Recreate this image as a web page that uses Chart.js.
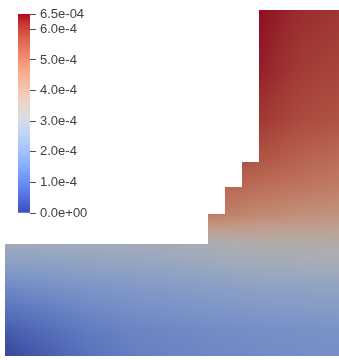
<!DOCTYPE html>
<html>
<head>
<meta charset="utf-8">
<script src="https://cdn.jsdelivr.net/npm/chart.js@4/dist/chart.umd.min.js"></script>
<style>
  html, body { margin: 0; padding: 0; background: #ffffff; }
  #wrap { position: relative; width: 339px; height: 360px; overflow: hidden; }
  canvas { position: absolute; left: 0; top: 0; }
</style>
</head>
<body>
<div id="wrap">
  <canvas id="field" width="339" height="360"></canvas>
  <canvas id="legend" width="120" height="230"></canvas>
</div>
<script>
// Mesh node coordinates of the body (model units)
const xNodes = [0, 2, 5, 8, 12, 13, 14, 15, 17.5, 20];
const yNodes = [0, 1.5, 4, 6.65, 8.4, 10, 11.5, 14, 17, 20.52];

// Stepped left boundary: wall x position for each level and the level's top
const wallX   = [0, 12, 13, 14, 15];
const wallTop = [6.65, 8.4, 10, 11.5, 20.52];

// Nodal values in units of 1e-4, one array per row of nodes (null = outside the body)
const n = null;
const rowY0    = [0.05, 0.45, 1.0, 1.3, 1.5, 1.55, 1.55, 1.6, 1.65, 1.7];
const rowY1_5  = [0.5, 0.8, 1.2, 1.45, 1.6, 1.65, 1.65, 1.7, 1.75, 1.8];
const rowY4    = [1.5, 1.65, 1.85, 2.0, 2.15, 2.2, 2.25, 2.3, 2.35, 2.4];
const rowY6_65 = [2.8, 2.8, 2.85, 2.9, 3.1, 3.2, 3.25, 3.3, 3.35, 3.4];
const rowY8_4  = [n, n, n, n, 4.9, 4.8, 4.7, 4.6, 4.45, 4.3];
const rowY10   = [n, n, n, n, n, 5.3, 5.25, 5.15, 5.0, 4.85];
const rowY11_5 = [n, n, n, n, n, n, 5.65, 5.6, 5.35, 5.15];
const rowY14   = [n, n, n, n, n, n, n, 6.1, 5.8, 5.65];
const rowY17   = [n, n, n, n, n, n, n, 6.4, 6.05, 5.9];
const rowY20_5 = [n, n, n, n, n, n, n, 6.5, 6.25, 6.1];
const valueUnit = 1e-4;

// Color legend range, ticks and labels
const rangeMin = 0;
const rangeMax = 6.5e-4;
const legendTicks  = [0, 1e-4, 2e-4, 3e-4, 4e-4, 5e-4, 6e-4, 6.5e-4];
const legendLabels = ['0.0e+00', '1.0e-4', '2.0e-4', '3.0e-4', '4.0e-4', '5.0e-4', '6.0e-4', '6.5e-04'];

// "Cool to Warm" diverging color map, evenly spaced control colors
const coolWarm = [
  [59,76,192],[68,90,204],[77,104,215],[87,117,225],[98,130,234],[108,142,241],
  [119,154,247],[130,165,251],[141,176,254],[152,185,255],[163,194,255],[174,201,253],
  [184,208,249],[194,213,244],[204,217,238],[213,219,230],[221,221,221],[229,216,209],
  [236,211,197],[241,204,185],[245,196,173],[247,187,160],[247,177,148],[247,166,135],
  [244,154,123],[241,141,111],[236,127,99],[229,112,88],[222,96,77],[213,80,66],
  [203,62,56],[192,40,47],[180,4,38]
];
// Diffuse and ambient shading of the lit surface
const diffuse = 0.74;
const ambient = 10;

const rows = [rowY0, rowY1_5, rowY4, rowY6_65, rowY8_4, rowY10, rowY11_5, rowY14, rowY17, rowY20_5];

function mapColor(v) {
  let t = (v - rangeMin) / (rangeMax - rangeMin);
  t = Math.max(0, Math.min(1, t)) * (coolWarm.length - 1);
  const i = Math.min(coolWarm.length - 2, Math.floor(t));
  const f = t - i, a = coolWarm[i], b = coolWarm[i + 1];
  return [a[0] + (b[0] - a[0]) * f, a[1] + (b[1] - a[1]) * f, a[2] + (b[2] - a[2]) * f];
}

function leftWallAt(y) {
  for (let k = 0; k < wallTop.length; k++) if (y <= wallTop[k]) return wallX[k];
  return null;
}

function findSpan(nodes, v) {
  for (let i = 0; i < nodes.length - 1; i++) if (v <= nodes[i + 1]) return i;
  return nodes.length - 2;
}

// Bilinear value inside the body, null outside
function valueAt(x, y) {
  if (y < yNodes[0] || y > yNodes[yNodes.length - 1]) return null;
  if (x > xNodes[xNodes.length - 1]) return null;
  const wx = leftWallAt(y);
  if (wx === null || x < wx) return null;
  const i = findSpan(xNodes, x), j = findSpan(yNodes, y);
  const x0 = xNodes[i], x1 = xNodes[i + 1], y0 = yNodes[j], y1 = yNodes[j + 1];
  const fx = (x - x0) / (x1 - x0), fy = (y - y0) / (y1 - y0);
  const v00 = rows[j][i], v10 = rows[j][i + 1], v01 = rows[j + 1][i], v11 = rows[j + 1][i + 1];
  if ([v00, v10, v01, v11].some(v => v === null)) return null;
  const v = (v00 * (1 - fx) + v10 * fx) * (1 - fy) + (v01 * (1 - fx) + v11 * fx) * fy;
  return v * valueUnit;
}

// Paints the body's field pixel by pixel through the chart's scales
const fieldPainter = {
  id: 'fieldPainter',
  beforeDatasetsDraw(chart) {
    const { ctx, chartArea: a, scales: { x, y } } = chart;
    const w = Math.round(a.right - a.left), h = Math.round(a.bottom - a.top);
    const img = ctx.createImageData(w, h);
    const d = img.data;
    for (let py = 0; py < h; py++) {
      const yv = y.getValueForPixel(a.top + py + 0.5);
      for (let px = 0; px < w; px++) {
        const xv = x.getValueForPixel(a.left + px + 0.5);
        const v = valueAt(xv, yv);
        if (v === null) continue;
        const c = mapColor(v);
        const k = (py * w + px) * 4;
        d[k] = c[0] * diffuse + ambient;
        d[k + 1] = c[1] * diffuse + ambient;
        d[k + 2] = c[2] * diffuse + ambient;
        d[k + 3] = 255;
      }
    }
    ctx.putImageData(img, Math.round(a.left), Math.round(a.top));
  }
};

const nodePoints = [];
rows.forEach((r, j) => r.forEach((v, i) => { if (v !== null) nodePoints.push({ x: xNodes[i], y: yNodes[j] }); }));

new Chart(document.getElementById('field'), {
  type: 'scatter',
  data: { datasets: [{ data: nodePoints, pointRadius: 0, showLine: false }] },
  options: {
    responsive: false,
    animation: false,
    events: [],
    layout: { padding: 0 },
    plugins: { legend: { display: false }, tooltip: { enabled: false } },
    scales: {
      x: { type: 'linear', display: false, min: -0.296, max: 19.763 },
      y: { type: 'linear', display: false, min: -0.219, max: 21.083 }
    }
  },
  plugins: [fieldPainter]
});

function legendGradient(chart) {
  const a = chart.chartArea;
  if (!a) return '#dddddd';
  const g = chart.ctx.createLinearGradient(0, a.bottom, 0, a.top);
  coolWarm.forEach((c, i) => g.addColorStop(i / (coolWarm.length - 1), `rgb(${c[0]},${c[1]},${c[2]})`));
  return g;
}

new Chart(document.getElementById('legend'), {
  type: 'bar',
  data: {
    labels: [''],
    datasets: [{
      data: [[rangeMin, rangeMax]],
      backgroundColor: ctx => legendGradient(ctx.chart),
      borderWidth: 0,
      barPercentage: 1,
      categoryPercentage: 1
    }]
  },
  options: {
    responsive: false,
    animation: false,
    events: [],
    layout: { padding: { left: 18, top: 14, bottom: 17, right: 0 } },
    plugins: { legend: { display: false }, tooltip: { enabled: false } },
    scales: {
      x: { display: false },
      y: {
        position: 'right',
        min: rangeMin,
        max: rangeMax,
        afterBuildTicks: s => { s.ticks = legendTicks.map(v => ({ value: v })); },
        afterFit: s => { s.width = 90; },
        ticks: {
          autoSkip: false,
          padding: 4,
          color: '#404040',
          font: { family: '"Liberation Sans", Arial, sans-serif', size: 13 },
          callback: v => legendLabels[legendTicks.indexOf(v)]
        },
        grid: { drawOnChartArea: false, drawTicks: true, tickLength: 6, color: '#505050', lineWidth: 1 },
        border: { display: false }
      }
    }
  }
});
</script>
</body>
</html>
